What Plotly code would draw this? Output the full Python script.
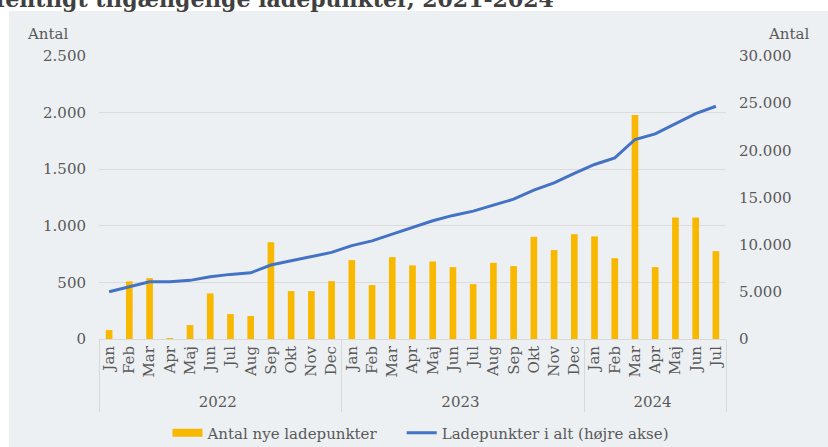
import plotly.graph_objects as go

years = ["2022"] * 12 + ["2023"] * 12 + ["2024"] * 7
months = ["Jan", "Feb", "Mar", "Apr", "Maj", "Jun", "Jul", "Aug", "Sep", "Okt", "Nov", "Dec"] * 2 + \
         ["Jan", "Feb", "Mar", "Apr", "Maj", "Jun", "Jul"]

new_points = [79, 509, 538, 4, 123, 403, 220, 203, 855, 423, 423, 511,
              697, 476, 723, 650, 685, 635, 485, 673, 644, 903, 785, 926,
              906, 714, 1978, 635, 1073, 1073, 776]

total_points = [5000, 5540, 6070, 6070, 6215, 6600, 6850, 7020, 7840, 8290, 8715, 9180,
                9900, 10400, 11120, 11830, 12530, 13100, 13555, 14190, 14825, 15780, 16555, 17550,
                18500, 19200, 21150, 21740, 22840, 23900, 24670]

title_text = "Offentligt tilgængelige ladepunkter, 2021-2024"
bar_name = "Antal nye ladepunkter"
line_name = "Ladepunkter i alt (højre akse)"

FONT = "DejaVu Serif"
TXT = "#595959"
BG = "#edf0f3"
BAR_C = "#f9b800"
LINE_C = "#4472c4"

W, H = 828, 447
L, R, T, B = 99, 102, 56, 108
pw, ph = W - L - R, H - T - B

def px_x(x):
    return (x - L) / pw

def px_y(y):
    return (H - B - y) / ph

fig = go.Figure()
fig.add_trace(go.Bar(x=[years, months], y=new_points, name=bar_name, showlegend=False,
                     marker=dict(color=BAR_C, line=dict(width=0)), yaxis="y"))
# legend entry with a wide rectangular swatch like the reference
fig.add_trace(go.Scatter(x=[[years[0]], [months[0]]], y=[None],
                         name=bar_name + "\u00a0" * 4, mode="lines",
                         line=dict(color=BAR_C, width=8), yaxis="y", hoverinfo="skip"))
fig.add_trace(go.Scatter(x=[years, months], y=total_points, name=line_name, mode="lines",
                         line=dict(color=LINE_C, width=3), yaxis="y2"))

fig.update_layout(
    width=W, height=H,
    margin=dict(l=L, r=R, t=T, b=B, autoexpand=False),
    paper_bgcolor="white",
    plot_bgcolor="rgba(0,0,0,0)",
    separators=",.",
    font=dict(family=FONT, color=TXT, size=15),
    bargap=0.67,
    showlegend=True,
    legend=dict(orientation="h", x=px_x(421), xanchor="center", y=px_y(433), yanchor="middle",
                font=dict(size=15, color=TXT), bgcolor="rgba(0,0,0,0)", itemwidth=30),
    xaxis=dict(type="multicategory", tickangle=-90, showline=True, linecolor="#d9d9d9",
               linewidth=1, showdividers=True, dividercolor="#d9d9d9", dividerwidth=1,
               tickfont=dict(size=15, color=TXT), ticks="", automargin=False),
    yaxis=dict(range=[0, 2500], dtick=500, showgrid=True, gridcolor="#dcdcdc", gridwidth=1,
               separatethousands=True, tickformat=",d", zeroline=False, showline=False,
               tickfont=dict(size=15, color=TXT), ticklabelstandoff=12, automargin=False),
    yaxis2=dict(range=[0, 30000], dtick=5000, overlaying="y", side="right", showgrid=False,
                separatethousands=True, tickformat=",d", zeroline=False, showline=False,
                tickfont=dict(size=15, color=TXT), ticklabelstandoff=12, automargin=False),
    shapes=[dict(type="rect", xref="paper", yref="paper", x0=px_x(9), x1=px_x(840),
                 y0=px_y(460), y1=px_y(11), fillcolor=BG, line=dict(width=0), layer="below")],
    annotations=[
        dict(text=title_text, xref="paper", yref="paper", x=px_x(556), y=px_y(14),
             xanchor="right", yanchor="bottom", showarrow=False,
             font=dict(family=FONT, size=22, color="#404040", weight="bold")),
        dict(text="Antal", xref="paper", yref="paper", x=px_x(47), y=px_y(34),
             xanchor="center", yanchor="middle", showarrow=False, font=dict(size=15, color=TXT)),
        dict(text="Antal", xref="paper", yref="paper", x=px_x(788), y=px_y(34),
             xanchor="center", yanchor="middle", showarrow=False, font=dict(size=15, color=TXT)),
    ],
)

fig.write_html("out.html", config={"displayModeBar": False},
               post_script="document.body.style.margin='0';")
